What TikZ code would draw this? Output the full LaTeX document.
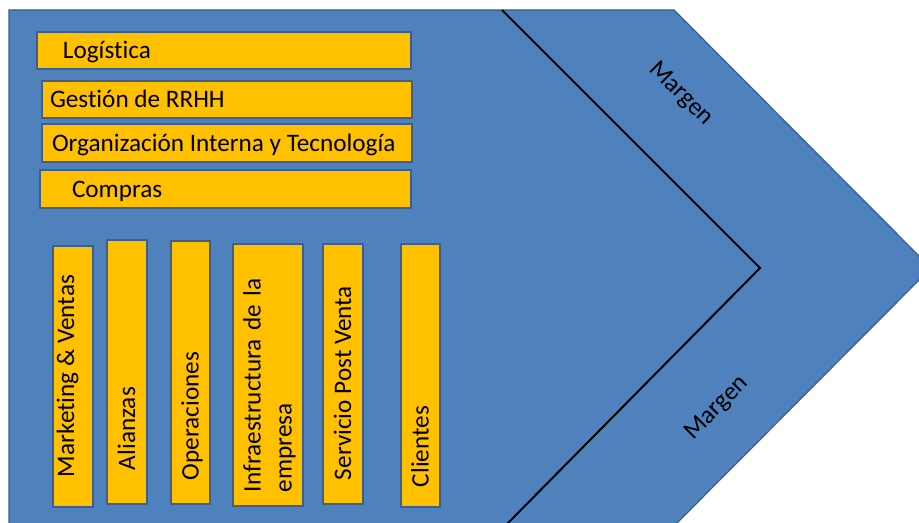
\documentclass[tikz,border=0pt]{standalone}
\usepackage{fontspec}
\setmainfont{Carlito}[Ligatures=NoCommon]
\definecolor{chevblue}{HTML}{4F81BD}
\definecolor{chevedge}{HTML}{385D8A}
\definecolor{boxfill}{HTML}{FFC000}
\definecolor{boxedge}{HTML}{3E5F8A}
\newcommand\lpad[3]{\makebox[#1][l]{\hspace*{#2}#3}}
\begin{document}
\begin{tikzpicture}[x=0.5pt,y=-0.5pt,
  font=\fontsize{12.6}{15.6}\selectfont,
  bar/.style={draw=boxedge, line width=1pt, fill=boxfill, inner xsep=0pt, inner ysep=0pt,
    text height=8.1pt, text depth=0pt, align=left},
  hbar/.style={bar, minimum height=18.5pt},
  vbar/.style={bar, rotate=90, minimum height=20pt},
  marg/.style={inner sep=0pt}
]
\useasboundingbox (0,0) rectangle (919,523);
\begin{scope}
  \clip (0,0) rectangle (919,523);
  \coordinate (tl) at (9,10);
  \coordinate (tr) at (674,10);
  \coordinate (tip) at (931,268);
  \coordinate (br) at (674,526);
  \coordinate (bl) at (9,526);
  \fill[chevblue] (tl) -- (tr) -- (tip) -- (br) -- (bl) -- cycle;
  \draw[chevedge, line width=0.6pt] (bl) -- (tl) -- (tr) -- (tip) -- (br);
  \coordinate (it) at (502,10);
  \coordinate (iv) at (760,268);
  \coordinate (ib) at (505,526);
  \draw[black, line width=1pt, line join=miter] (it) -- (iv) -- (ib);
\end{scope}

% horizontal bars
\node[hbar, minimum width=187pt] (log) at (224,50.5) {\lpad{187pt}{13pt}{Logística}};
\node[hbar, minimum width=185pt] (rrhh) at (227,99.5) {\lpad{185pt}{4pt}{Gestión de RRHH}};
\node[hbar, minimum width=185pt, minimum height=19pt] (org) at (227,143) {\lpad{185pt}{5pt}{Organización Interna y Tecnología}};
\node[hbar, minimum width=185.5pt, minimum height=19pt] (comp) at (225.5,189) {\lpad{185.5pt}{16pt}{Compras}};

% vertical bars
\node[vbar, minimum width=130.5pt, text depth=7pt] (mk) at (73,376.5) {\lpad{130.5pt}{15pt}{Marketing \& Ventas}};
\node[vbar, minimum width=132pt] (ali) at (127,372) {\lpad{132pt}{17pt}{Alianzas}};
\node[vbar, minimum width=131.5pt, minimum height=19.5pt] (ope) at (190.5,372.5) {\lpad{131.5pt}{12pt}{Operaciones}};
\node[vbar, minimum width=131pt, minimum height=35pt, text width=117pt, inner xsep=7pt, text depth=15.6pt] (inf) at (268,375) {Infraestructura de la\\empresa};
\node[vbar, minimum width=130pt] (ser) at (343,374) {\lpad{130pt}{12pt}{Servicio Post Venta}};
\node[vbar, minimum width=131.5pt, minimum height=19.5pt] (cli) at (420.5,375.5) {\lpad{131.5pt}{10pt}{Clientes}};

% margin labels
\node[marg, rotate=-45] (m1) at (681,94) {Margen};
\node[marg, rotate=45] (m2) at (717,408) {Margen};
\end{tikzpicture}
\end{document}
